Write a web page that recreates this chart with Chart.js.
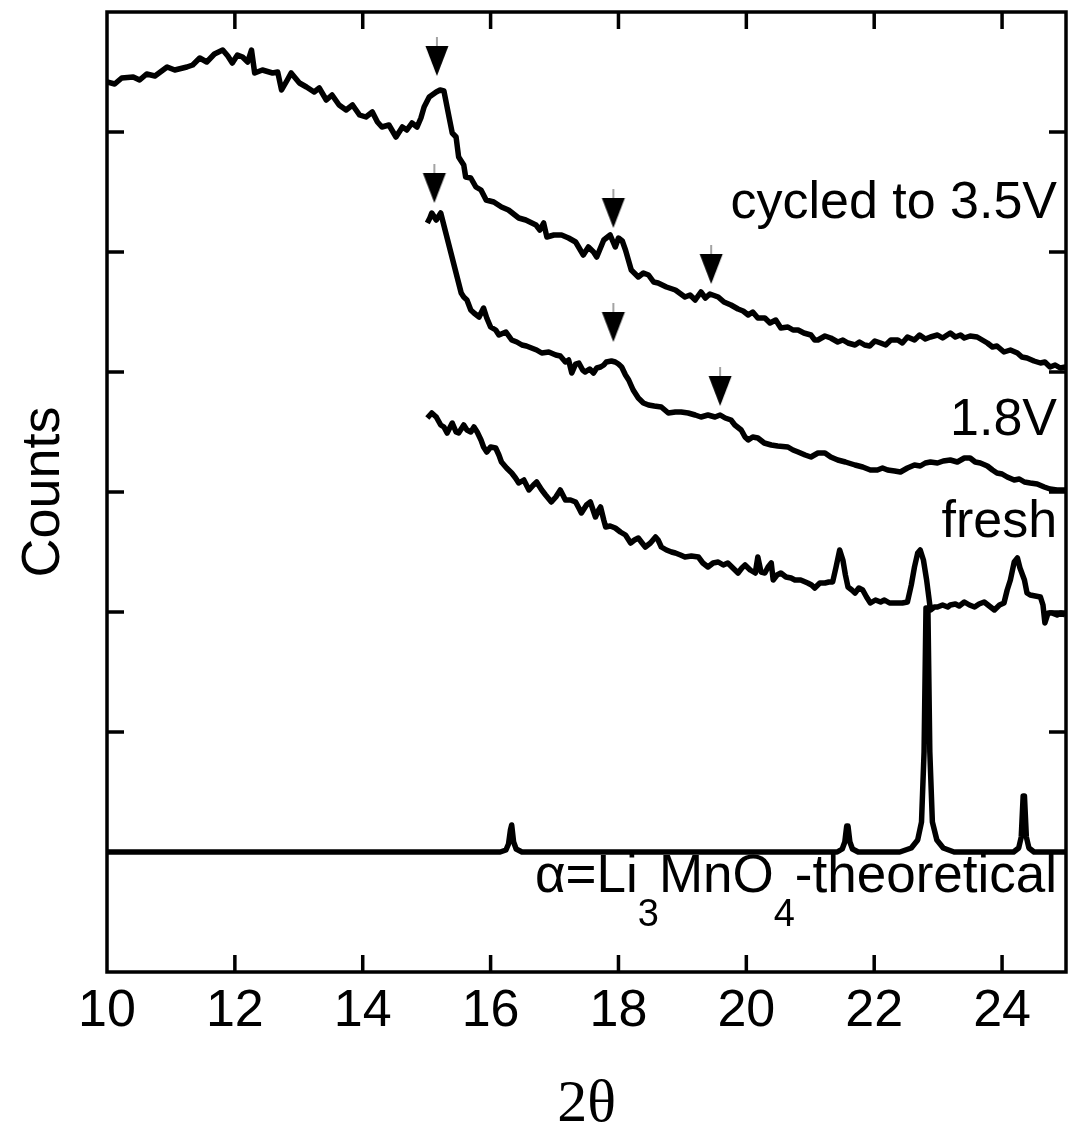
<!DOCTYPE html>
<html><head><meta charset="utf-8">
<script src="https://cdn.jsdelivr.net/npm/chart.js@4.4.1/dist/chart.umd.min.js"></script>
<style>html,body{margin:0;padding:0;background:#fff;} #wrap{width:1078px;height:1141px;}</style>
</head><body><div id="wrap"><canvas id="c" width="1078" height="1141"></canvas></div>
<script>
// ---------- data ----------
const xTicks = [10,12,14,16,18,20,22,24];
const yTicks = [120,240,360,480,600,720,840];

const c35X = [10.00,10.12,10.23,10.41,10.51,10.62,10.75,10.94,11.06,11.25,
11.34,11.45,11.56,11.68,11.81,11.89,11.96,12.04,12.12,12.20,
12.26,12.31,12.43,12.59,12.67,12.73,12.82,12.88,13.01,13.12,
13.24,13.32,13.43,13.52,13.63,13.74,13.84,13.95,14.05,14.15,
14.23,14.30,14.41,14.52,14.62,14.69,14.77,14.85,14.91,14.96,
15.04,15.15,15.21,15.27,15.35,15.40,15.46,15.50,15.58,15.61,
15.69,15.77,15.85,15.93,16.05,16.17,16.28,16.44,16.55,16.71,
16.77,16.83,16.88,16.99,17.11,17.22,17.33,17.45,17.53,17.61,
17.66,17.77,17.83,17.87,17.95,18.00,18.06,18.11,18.20,18.31,
18.39,18.47,18.55,18.62,18.75,18.89,19.04,19.12,19.20,19.29,
19.36,19.43,19.56,19.65,19.76,19.87,19.95,20.03,20.10,20.18,
20.29,20.37,20.46,20.54,20.65,20.73,20.81,20.90,21.01,21.07,
21.12,21.23,21.32,21.43,21.51,21.59,21.70,21.77,21.85,21.93,
22.01,22.10,22.18,22.26,22.37,22.44,22.52,22.63,22.71,22.80,
22.88,22.99,23.07,23.19,23.27,23.35,23.41,23.50,23.61,23.69,
23.77,23.85,23.92,24.03,24.13,24.24,24.31,24.39,24.50,24.60,
24.67,24.75,24.83,24.91,24.99];
const c35Y = [890,888,894,895,892,898,896,905,902,905,
907,914,910,918,922,916,909,917,915,910,
922,899,902,899,900,882,892,899,889,885,
880,884,872,877,867,862,867,857,855,860,
850,845,847,835,845,842,849,845,854,865,
875,880,882,881,855,839,835,815,807,795,
794,785,782,772,770,765,762,754,752,747,
742,749,735,737,737,734,730,717,725,720,
715,732,735,737,725,734,731,722,702,695,
699,697,690,689,685,682,675,677,672,680,
674,678,675,670,667,663,661,657,660,654,
654,649,652,644,645,642,642,639,637,632,
632,636,634,630,632,629,627,630,627,626,
631,629,627,632,632,629,635,632,637,633,
635,637,634,639,635,637,634,636,635,632,
629,625,626,620,622,619,615,614,611,609,
610,605,607,604,605];

const c18X = [15.01,15.05,15.08,15.15,15.22,15.30,15.38,15.46,15.54,15.58,
15.63,15.69,15.74,15.82,15.89,15.94,16.00,16.08,16.13,16.24,
16.33,16.41,16.49,16.56,16.64,16.72,16.80,16.91,17.02,17.09,
17.17,17.22,17.27,17.33,17.38,17.44,17.48,17.55,17.61,17.66,
17.72,17.77,17.81,17.89,17.95,18.00,18.05,18.11,18.16,18.23,
18.31,18.39,18.47,18.56,18.67,18.78,18.89,18.98,19.09,19.20,
19.29,19.40,19.51,19.59,19.67,19.76,19.82,19.92,19.98,20.03,
20.10,20.18,20.28,20.39,20.49,20.65,20.73,20.81,20.92,21.01,
21.12,21.23,21.32,21.43,21.55,21.70,21.82,21.94,22.05,22.13,
22.21,22.32,22.41,22.52,22.63,22.72,22.80,22.88,22.99,23.08,
23.19,23.30,23.41,23.50,23.58,23.66,23.77,23.85,23.92,24.00,
24.08,24.19,24.27,24.35,24.44,24.55,24.66,24.75,24.86,24.99];
const c18Y = [749,754,759,752,759,739,719,699,679,675,
672,662,659,655,664,654,645,642,637,640,
632,630,627,626,624,622,619,620,617,616,
610,612,599,608,609,602,600,603,599,604,
605,607,610,611,610,608,605,597,592,582,
574,569,567,566,565,559,560,560,559,557,
555,557,555,557,554,552,547,542,535,532,
535,534,529,527,526,525,522,520,517,515,
519,519,515,512,510,507,505,502,502,504,
502,501,500,504,507,506,509,510,509,511,
512,510,514,514,510,509,506,502,499,498,
495,492,493,490,489,488,485,483,482,482];

const freshX = [15.01,15.08,15.15,15.22,15.27,15.32,15.40,15.46,15.50,15.58,
15.63,15.69,15.74,15.79,15.85,15.89,15.94,16.00,16.08,16.13,
16.17,16.25,16.33,16.39,16.44,16.52,16.60,16.67,16.72,16.80,
16.86,16.95,17.02,17.09,17.17,17.25,17.33,17.38,17.42,17.50,
17.56,17.64,17.69,17.72,17.77,17.80,17.87,17.95,18.03,18.11,
18.19,18.25,18.31,18.37,18.42,18.50,18.58,18.62,18.67,18.75,
18.83,18.89,18.97,19.04,19.14,19.25,19.32,19.40,19.48,19.56,
19.64,19.71,19.79,19.87,19.93,19.98,20.06,20.14,20.18,20.23,
20.29,20.34,20.39,20.42,20.48,20.54,20.62,20.70,20.76,20.85,
20.96,21.02,21.07,21.15,21.23,21.29,21.35,21.40,21.46,21.51,
21.55,21.59,21.65,21.70,21.76,21.82,21.88,21.94,22.02,22.10,
22.16,22.24,22.32,22.37,22.44,22.52,22.58,22.63,22.68,22.72,
22.77,22.82,22.88,22.94,22.99,23.07,23.15,23.19,23.27,23.33,
23.41,23.49,23.57,23.64,23.72,23.80,23.88,23.96,24.03,24.08,
24.13,24.19,24.24,24.28,24.35,24.39,24.44,24.52,24.60,24.64,
24.67,24.72,24.78,24.86,24.92,24.99];
const freshY = [554,559,555,547,545,539,549,540,539,547,
542,540,545,540,532,525,520,525,524,517,
510,504,499,494,489,492,482,487,490,482,
477,470,475,482,472,472,470,464,459,467,
470,455,462,465,452,445,446,444,440,437,
429,432,434,429,425,429,435,432,425,422,
420,419,417,415,416,415,409,405,409,410,
407,409,404,399,404,407,402,399,415,400,
399,405,409,392,397,399,395,394,392,392,
389,387,384,389,389,390,390,404,422,412,
397,385,382,379,384,382,375,369,372,370,
372,369,369,369,369,370,387,405,419,422,
412,392,362,365,365,367,365,367,368,366,
370,367,365,368,370,366,362,367,369,382,
392,410,414,404,392,379,377,376,375,367,
349,359,359,357,359,357];

const theoX = [10,16.15,16.24,16.28,16.31,16.33,16.36,16.40,16.49,
21.42,21.50,21.54,21.57,21.59,21.62,21.66,21.75,
22.40,22.58,22.68,22.74,22.78,22.81,22.84,22.87,22.91,22.98,23.08,23.25,
24.18,24.26,24.30,24.33,24.35,24.38,24.42,24.50,25];
const theoY = [120,120,122,128,142,147,130,123,120,
120,123,130,146,146,130,123,120,
120,124,132,150,220,364,364,220,150,132,124,120,
120,124,135,176,176,135,124,120,120];

// peak markers (down arrows)
const arrowX = [15.16,17.92,19.45,15.12,17.92,19.59];
const arrowY = [915,763,707,788,649,585];

const curveLabels = ['cycled to 3.5V','1.8V','fresh'];
const theoLabelParts = [['\u03B1=Li',0],['3',1],['MnO',0],['4',1],['-theoretical',0]];
const xTitle = '2\u03B8';
const yTitle = 'Counts';

// ---------- helpers ----------
function pts(xs, ys){ return xs.map((x,i)=>({x:x, y:ys[i]})); }

const arrowImg = (function(){
  const c = document.createElement('canvas'); c.width = 26; c.height = 40;
  const g = c.getContext('2d');
  g.strokeStyle = '#666'; g.lineWidth = 1.2;
  g.beginPath(); g.moveTo(13,0); g.lineTo(13,10); g.stroke();
  g.fillStyle = '#000';
  g.beginPath(); g.moveTo(1.5,9); g.lineTo(24.5,9); g.lineTo(13,39); g.closePath(); g.fill();
  return c;
})();

const SANS = '"Liberation Sans", Arial, Helvetica, sans-serif';

const framePlugin = {
  id: 'frame',
  afterDraw(chart){
    const ctx = chart.ctx, a = chart.chartArea, x = chart.scales.x, y = chart.scales.y;
    ctx.save();
    ctx.strokeStyle = '#000';
    ctx.lineWidth = 3.5;
    ctx.strokeRect(a.left, a.top, a.right - a.left, a.bottom - a.top);
    const L = 17;
    ctx.beginPath();
    xTicks.forEach(v => {
      if (v === x.min) return;
      const p = x.getPixelForValue(v);
      ctx.moveTo(p, a.bottom); ctx.lineTo(p, a.bottom - L);
      ctx.moveTo(p, a.top); ctx.lineTo(p, a.top + L);
    });
    yTicks.forEach(v => {
      const p = y.getPixelForValue(v);
      ctx.moveTo(a.left, p); ctx.lineTo(a.left + L, p);
      ctx.moveTo(a.right, p); ctx.lineTo(a.right - L, p);
    });
    ctx.lineWidth = 3.5;
    ctx.stroke();

    // curve labels
    ctx.fillStyle = '#000';
    ctx.font = '52px ' + SANS;
    ctx.textAlign = 'right';
    ctx.textBaseline = 'alphabetic';
    const rx = x.getPixelForValue(24.86);
    const labelY = [754, 537, 435];
    curveLabels.forEach((t,i) => ctx.fillText(t, rx, y.getPixelForValue(labelY[i])));

    // theoretical label with subscripts
    const base = y.getPixelForValue(80);
    const big = '53px ' + SANS, small = '38px ' + SANS;
    let widths = theoLabelParts.map(p => { ctx.font = p[1] ? small : big; return ctx.measureText(p[0]).width; });
    let total = widths.reduce((s,w)=>s+w,0);
    let cx = rx - total;
    ctx.textAlign = 'left';
    theoLabelParts.forEach((p,i) => {
      ctx.font = p[1] ? small : big;
      ctx.fillText(p[0], cx, base + (p[1] ? 34 : 0));
      cx += widths[i];
    });

    // axis titles
    ctx.font = '60px "Liberation Serif", "Times New Roman", serif';
    ctx.textAlign = 'center';
    ctx.fillText(xTitle, (a.left + a.right) / 2, 1121);
    ctx.save();
    ctx.translate(59, (a.top + a.bottom) / 2);
    ctx.rotate(-Math.PI / 2);
    ctx.font = '54px ' + SANS;
    ctx.fillText(yTitle, 0, 0);
    ctx.restore();
    ctx.restore();
  }
};

const lineDs = (xs, ys) => ({
  data: pts(xs, ys), showLine: true, borderColor: '#000', borderWidth: 5.5,
  pointRadius: 0, borderJoinStyle: 'round', fill: false, tension: 0
});

new Chart(document.getElementById('c'), {
  type: 'scatter',
  data: {
    datasets: [
      lineDs(theoX, theoY),
      lineDs(freshX, freshY),
      lineDs(c18X, c18Y),
      lineDs(c35X, c35Y),
      { data: pts(arrowX, arrowY), showLine: false, pointStyle: arrowImg, pointRadius: 12, borderWidth: 0 }
    ]
  },
  options: {
    responsive: false, animation: false, devicePixelRatio: 1,
    layout: { padding: { left: 107, top: 12, right: 9, bottom: 0 } },
    plugins: { legend: { display: false }, tooltip: { enabled: false } },
    scales: {
      x: {
        type: 'linear', min: 10, max: 25,
        border: { display: false },
        grid: { display: false, drawTicks: false },
        afterBuildTicks: s => { s.ticks = xTicks.map(v => ({ value: v })); },
        afterFit: s => { s.height = 169; },
        ticks: { padding: 8, color: '#000', font: { family: SANS, size: 52 }, maxRotation: 0, autoSkip: false }
      },
      y: {
        type: 'linear', min: 0, max: 960,
        border: { display: false },
        grid: { display: false, drawTicks: false },
        afterBuildTicks: s => { s.ticks = yTicks.map(v => ({ value: v })); },
        afterFit: s => { s.width = 0; },
        ticks: { display: false }
      }
    }
  },
  plugins: [framePlugin]
});
</script>
</body></html>
